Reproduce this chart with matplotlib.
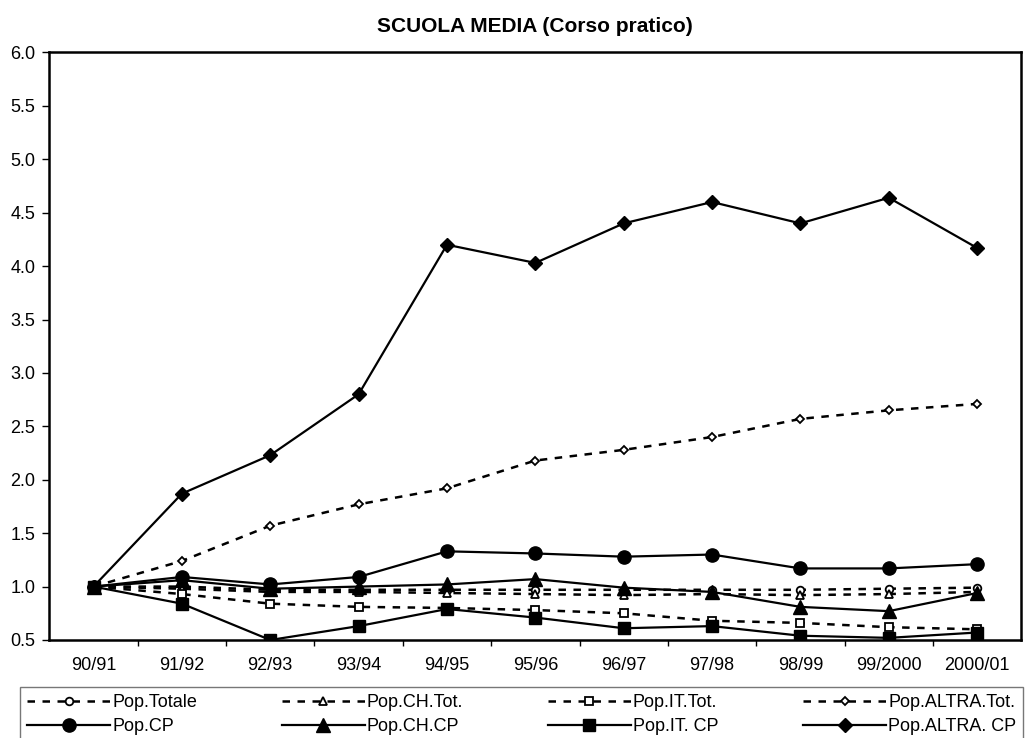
import matplotlib
matplotlib.use("Agg")
import matplotlib.pyplot as plt

plt.rcParams['font.family'] = ['Liberation Sans', 'DejaVu Sans']

# ---- data ----
years = ['90/91', '91/92', '92/93', '93/94', '94/95', '95/96',
         '96/97', '97/98', '98/99', '99/2000', '2000/01']

pop_totale = [1.00, 1.00, 0.97, 0.97, 0.97, 0.97, 0.97, 0.97, 0.97, 0.98, 0.99]
pop_ch_tot = [1.00, 0.98, 0.95, 0.95, 0.94, 0.93, 0.92, 0.93, 0.92, 0.93, 0.95]
pop_it_tot = [1.00, 0.93, 0.84, 0.81, 0.80, 0.78, 0.75, 0.68, 0.66, 0.62, 0.60]
pop_altra_tot = [1.00, 1.24, 1.57, 1.77, 1.92, 2.18, 2.28, 2.40, 2.57, 2.65, 2.71]

pop_cp = [1.00, 1.09, 1.02, 1.09, 1.33, 1.31, 1.28, 1.30, 1.17, 1.17, 1.21]
pop_ch_cp = [1.00, 1.06, 0.98, 1.00, 1.02, 1.07, 0.99, 0.95, 0.81, 0.77, 0.94]
pop_it_cp = [1.00, 0.84, 0.50, 0.63, 0.79, 0.71, 0.61, 0.63, 0.54, 0.52, 0.57]
pop_altra_cp = [1.00, 1.87, 2.23, 2.80, 4.20, 4.03, 4.40, 4.60, 4.40, 4.64, 4.17]

# ---- chart ----
fig = plt.figure(figsize=(10.28, 7.38), dpi=100)
ax = fig.add_axes([0.048, 0.1328, 0.9455, 0.7961])

x = list(range(len(years)))
dash = (0, (3, 3))

# dashed "Tot." series, open markers
tot_style = dict(color='black', lw=1.8, ls=dash, mfc='white', mec='black', mew=1.3)
h_tot = ax.plot(x, pop_totale, marker='o', ms=5.5, label='Pop.Totale', **tot_style)[0]
h_ch_tot = ax.plot(x, pop_ch_tot, marker='^', ms=6, label='Pop.CH.Tot.', **tot_style)[0]
h_it_tot = ax.plot(x, pop_it_tot, marker='s', ms=5.5, label='Pop.IT.Tot.', **tot_style)[0]
h_altra_tot = ax.plot(x, pop_altra_tot, marker='D', ms=4.5, label='Pop.ALTRA.Tot.', **tot_style)[0]

# solid "CP" series, filled markers
cp_style = dict(color='black', lw=1.6)
h_cp = ax.plot(x, pop_cp, marker='o', ms=9.5, label='Pop.CP', **cp_style)[0]
h_ch_cp = ax.plot(x, pop_ch_cp, marker='^', ms=9.5, label='Pop.CH.CP', **cp_style)[0]
h_it_cp = ax.plot(x, pop_it_cp, marker='s', ms=9, label='Pop.IT. CP', **cp_style)[0]
h_altra_cp = ax.plot(x, pop_altra_cp, marker='D', ms=7.5, label='Pop.ALTRA. CP', **cp_style)[0]

ax.set_xlim(-0.5, len(years) - 0.5)
ax.set_ylim(0.5, 6.0)
yt = [0.5 + 0.5 * i for i in range(12)]
ax.set_yticks(yt)
ax.set_yticklabels([f'{v:.1f}' for v in yt])
ax.set_xticks(x)
ax.set_xticklabels(years)
ax.set_xticks([i + 0.5 for i in range(len(years) - 1)], minor=True)
ax.tick_params(axis='x', which='major', length=0, pad=12, labelsize=13)
ax.tick_params(axis='x', which='minor', length=4, direction='out', width=1)
ax.tick_params(axis='y', length=5, direction='out', width=1, pad=5, labelsize=13)
for s in ax.spines.values():
    s.set_linewidth(1.8)

ax.set_title('SCUOLA MEDIA (Corso pratico)', fontsize=15, fontweight='bold', pad=15)

# Excel legend is row-major, matplotlib fills columns first
handles = [h_tot, h_cp, h_ch_tot, h_ch_cp, h_it_tot, h_it_cp, h_altra_tot, h_altra_cp]
leg = fig.legend(handles=handles, labels=[h.get_label() for h in handles],
                 ncol=4, loc='upper left', bbox_to_anchor=(20 / 1028, 1 - 687 / 738),
                 fontsize=13, frameon=True, fancybox=False, edgecolor='#555555',
                 handlelength=4.6, columnspacing=4.7, labelspacing=0.4,
                 borderpad=0.4, handletextpad=0.1, borderaxespad=0)
leg.get_frame().set_linewidth(1)

fig.savefig('out.png', dpi=100)
